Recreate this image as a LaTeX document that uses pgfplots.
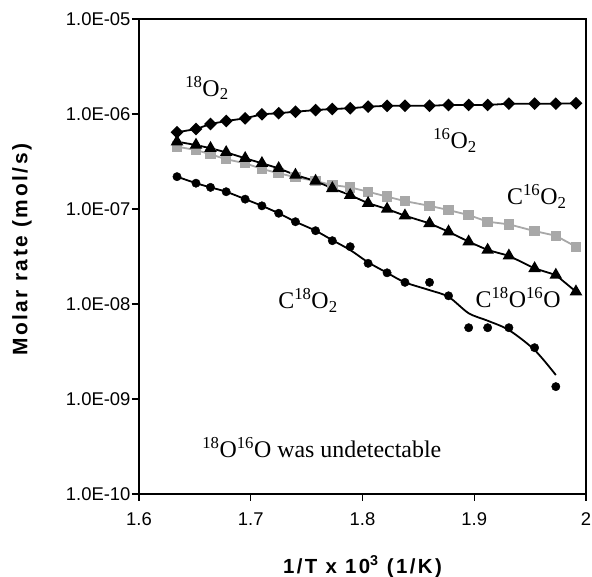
\documentclass[border=0pt]{standalone}
\usepackage{fontspec}
\setmainfont{Liberation Serif}
\newfontfamily\sansfont{Liberation Sans}
\newfontfamily\titlefont[LetterSpace=12]{Liberation Sans}
\usepackage{pgfplots}
\pgfplotsset{compat=1.18}
\definecolor{sqgray}{HTML}{A8A8A8}
\newcommand\lbl{\fontsize{24}{28}\selectfont}

\begin{document}
\begin{tikzpicture}
\useasboundingbox (-139bp,-83bp) rectangle (453bp,494bp);
\begin{axis}[
 scale only axis, width=447bp, height=475bp,
 ymode=log, xmin=1.6, xmax=2, ymin=1e-10, ymax=1e-5,
 xtick={1.6,1.7,1.8,1.9,2}, xticklabels={1.6,1.7,1.8,1.9,2},
 ytick={1e-10,1e-9,1e-8,1e-7,1e-6,1e-5},
 yticklabels={1.0E-10,1.0E-09,1.0E-08,1.0E-07,1.0E-06,1.0E-05},
 yminorticks=false,
 tick align=outside, major tick length=7bp, xtick pos=bottom, ytick pos=left,
 axis line style={line width=1.1bp},
 tick style={line width=1.1bp,black},
 ticklabel style={font=\sansfont\fontsize{18.5}{21}\selectfont},
 xticklabel style={yshift=-8bp},
 yticklabel style={xshift=2bp},
 xlabel={\titlefont\bfseries\fontsize{20.5}{24}\selectfont 1/T x 10\textsuperscript{3} (1/K)},
 ylabel={\titlefont\bfseries\fontsize{21}{24}\selectfont Molar rate (mol/s)},
 xlabel style={at={(axis description cs:0.5,-0.153)},anchor=center},
 ylabel style={at={(axis description cs:-0.262,0.514)},anchor=center},
 clip=false
]
% 18O2 (diamonds)
\addplot[black,line width=1.8bp,mark=square*,mark size=3.6bp,mark options={rotate=45}] coordinates {
 (1.634,6.42e-7) (1.651,6.95e-7) (1.664,7.85e-7) (1.678,8.44e-7) (1.695,9.01e-7)
 (1.710,9.93e-7) (1.725,1.02e-6) (1.740,1.057e-6) (1.758,1.10e-6) (1.773,1.13e-6)
 (1.789,1.148e-6) (1.805,1.194e-6) (1.822,1.22e-6) (1.838,1.22e-6) (1.860,1.22e-6)
 (1.877,1.245e-6) (1.895,1.245e-6) (1.912,1.245e-6) (1.931,1.284e-6) (1.954,1.284e-6)
 (1.973,1.284e-6) (1.991,1.297e-6)};
% C16O2 (grey squares)
\addplot[sqgray,line width=1.8bp,mark=square*,mark size=4.3bp] coordinates {
 (1.634,4.53e-7) (1.651,4.18e-7) (1.664,3.77e-7) (1.678,3.34e-7) (1.695,3.03e-7)
 (1.710,2.64e-7) (1.725,2.38e-7) (1.740,2.16e-7) (1.758,1.97e-7) (1.773,1.79e-7)
 (1.789,1.69e-7) (1.805,1.52e-7) (1.822,1.35e-7) (1.838,1.21e-7) (1.860,1.08e-7)
 (1.877,9.75e-8) (1.895,8.64e-8) (1.912,7.35e-8) (1.931,6.90e-8) (1.954,5.86e-8)
 (1.973,5.23e-8) (1.991,4.01e-8)};
% 16O2 (triangles)
\addplot[black,line width=1.8bp,mark=triangle*,mark size=5.5bp] coordinates {
 (1.634,5.11e-7) (1.651,4.72e-7) (1.664,4.36e-7) (1.678,3.95e-7) (1.695,3.42e-7)
 (1.710,3.03e-7) (1.725,2.68e-7) (1.740,2.28e-7) (1.758,1.97e-7) (1.773,1.65e-7)
 (1.789,1.40e-7) (1.805,1.15e-7) (1.822,1.00e-7) (1.838,8.50e-8) (1.860,7.06e-8)
 (1.877,5.77e-8) (1.895,4.53e-8) (1.912,3.70e-8) (1.931,3.22e-8) (1.954,2.37e-8)
 (1.973,2.02e-8) (1.991,1.35e-8)};
% C18O2 (circles)
\addplot[black,only marks,mark=*,mark size=4.2bp] coordinates {
 (1.634,2.19e-7) (1.651,1.87e-7) (1.664,1.69e-7) (1.678,1.52e-7) (1.695,1.27e-7)
 (1.710,1.08e-7) (1.725,9.02e-8) (1.740,7.35e-8) (1.758,5.91e-8) (1.773,4.64e-8)
 (1.789,4.01e-8) (1.805,2.68e-8) (1.822,2.13e-8) (1.838,1.69e-8) (1.860,1.69e-8)
 (1.877,1.22e-8) (1.895,5.63e-9) (1.912,5.63e-9) (1.931,5.63e-9) (1.954,3.47e-9)
 (1.973,1.35e-9)};
% fitted curve
\addplot[black,line width=1.8bp,smooth,no markers] coordinates {
 (1.634,2.19e-7) (1.651,1.87e-7) (1.664,1.69e-7) (1.678,1.52e-7) (1.695,1.27e-7)
 (1.710,1.08e-7) (1.725,9.02e-8) (1.740,7.35e-8) (1.758,5.91e-8) (1.773,4.7e-8)
 (1.789,3.7e-8) (1.805,2.75e-8) (1.822,2.13e-8) (1.838,1.69e-8) (1.860,1.40e-8)
 (1.877,1.19e-8) (1.895,8.0e-9) (1.912,6.67e-9) (1.931,5.32e-9) (1.954,3.28e-9)
 (1.973,1.79e-9)};

\node[font=\lbl] at (axis description cs:0.152,0.855) {\textsuperscript{18}O\textsubscript{2}};
\node[font=\lbl] at (axis description cs:0.707,0.745) {\textsuperscript{16}O\textsubscript{2}};
\node[font=\lbl] at (axis description cs:0.890,0.627) {C\textsuperscript{16}O\textsubscript{2}};
\node[font=\lbl] at (axis description cs:0.378,0.408) {C\textsuperscript{18}O\textsubscript{2}};
\node[font=\lbl] at (axis description cs:0.848,0.413) {C\textsuperscript{18}O\textsuperscript{16}O};
\node[font=\lbl] at (axis description cs:0.409,0.097) {\textsuperscript{18}O\textsuperscript{16}O was undetectable};
\end{axis}
\end{tikzpicture}
\end{document}
